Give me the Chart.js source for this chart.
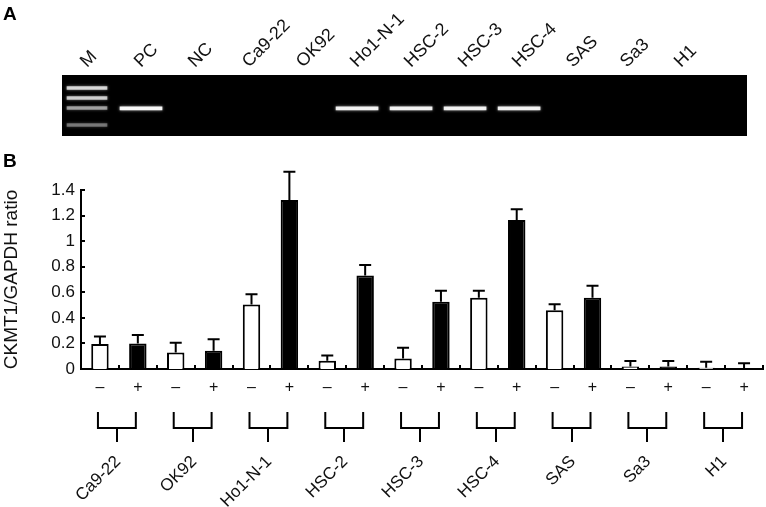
<!DOCTYPE html>
<html>
<head>
<meta charset="utf-8">
<script src="https://cdn.jsdelivr.net/npm/chart.js@4.4.1/dist/chart.umd.min.js"></script>
<style>
  html, body { margin: 0; padding: 0; background: #fff; }
  #wrap { position: relative; width: 766px; height: 507px; }
  #gelBox { position: absolute; left: 0; top: 0; width: 766px; height: 150px; }
  #barBox { position: absolute; left: 0; top: 150px; width: 766px; height: 357px; }
</style>
</head>
<body>
<div id="wrap">
  <div id="gelBox"><canvas id="gel"></canvas></div>
  <div id="barBox"><canvas id="chart"></canvas></div>
</div>
<script>
// panel A - RT-PCR gel
const gelLanes = ['M', 'PC', 'NC', 'Ca9-22', 'OK92', 'Ho1-N-1', 'HSC-2', 'HSC-3', 'HSC-4', 'SAS', 'Sa3', 'H1'];
const ladderMigration = [13, 23, 33, 50];
const ladderIntensity = [0.75, 0.7, 0.5, 0.35];
const productMigration = 33.4;
const productIntensity = [0, 0.95, 0, 0, 0, 0.9, 0.9, 0.9, 0.9, 0, 0, 0];

// panel B - CKMT1/GAPDH ratio
const signs = ['\u2013', '+'];
const cellLines = ['Ca9-22', 'OK92', 'Ho1-N-1', 'HSC-2', 'HSC-3', 'HSC-4', 'SAS', 'Sa3', 'H1'];
const minusMean = [0.195, 0.13, 0.505, 0.065, 0.083, 0.557, 0.459, 0.02, 0.01];
const minusErr  = [0.06, 0.075, 0.08, 0.04, 0.083, 0.055, 0.047, 0.042, 0.047];
const plusMean  = [0.2, 0.143, 1.322, 0.731, 0.526, 1.166, 0.557, 0.02, 0.005];
const plusErr   = [0.065, 0.09, 0.22, 0.083, 0.086, 0.083, 0.094, 0.042, 0.039];

const FONT = '"Liberation Sans", Arial, Helvetica, sans-serif';
Chart.defaults.font.family = FONT;
Chart.defaults.color = '#111';

// black gel background, glow on the bands, lane names
const gelDecor = {
    id: 'gelDecor',
    beforeDatasetsDraw(chart) {
        const {ctx, chartArea: a} = chart;
        ctx.save();
        ctx.fillStyle = '#000';
        ctx.fillRect(a.left, a.top, a.right - a.left, a.bottom - a.top);
        ctx.shadowColor = 'rgba(255,255,255,0.7)';
        ctx.shadowBlur = 3;
    },
    afterDatasetsDraw(chart) {
        chart.ctx.restore();
    },
    afterDraw(chart) {
        const {ctx, chartArea: a} = chart;
        const x = chart.scales.x;
        ctx.save();
        ctx.fillStyle = '#111';
        ctx.font = '18px ' + FONT;
        ctx.textAlign = 'left';
        ctx.textBaseline = 'alphabetic';
        gelLanes.forEach((lane, i) => {
            ctx.save();
            ctx.translate(x.getPixelForValue(i), a.top - 7);
            ctx.rotate(-Math.PI / 4);
            ctx.fillText(lane, 0, 0);
            ctx.restore();
        });
        ctx.fillStyle = '#000';
        ctx.font = 'bold 19px ' + FONT;
        ctx.fillText('A', 3, 20);
        ctx.restore();
    }
};

const productLanes = gelLanes.map((l, i) => i).filter(i => productIntensity[i] > 0);

new Chart(document.getElementById('gel'), {
    type: 'bar',
    data: {
        datasets: [{
            label: 'Marker',
            data: ladderMigration.map(m => ({x: 0, y: [m - 1.3, m + 1.3]})),
            backgroundColor: ladderIntensity.map(v => `rgba(255,255,255,${v})`),
            barThickness: 40,
            grouped: false
        }, {
            label: 'CKMT1',
            data: productLanes.map(i => ({x: i, y: [productMigration - 1.6, productMigration + 1.6]})),
            backgroundColor: productLanes.map(i => `rgba(255,255,255,${productIntensity[i]})`),
            barThickness: 42,
            grouped: false
        }]
    },
    options: {
        responsive: true,
        maintainAspectRatio: false,
        animation: false,
        devicePixelRatio: 1,
        layout: {padding: {left: 62, right: 19, top: 75, bottom: 14}},
        plugins: {legend: {display: false}, tooltip: {enabled: false}},
        scales: {
            x: {type: 'linear', display: false, min: -0.463, max: 12.22, offset: false},
            y: {display: false, reverse: true, min: 0, max: 61}
        }
    },
    plugins: [gelDecor]
});

// error bars, inward ticks, brackets and cell line names
const barDecor = {
    id: 'barDecor',
    afterDatasetsDraw(chart) {
        const {ctx} = chart;
        const y = chart.scales.y;
        ctx.save();
        ctx.strokeStyle = '#000';
        ctx.lineWidth = 2;
        chart.data.datasets.forEach((ds, d) => {
            chart.getDatasetMeta(d).data.forEach((bar, j) => {
                const v = ds.data[j];
                if (v == null) return;
                const top = y.getPixelForValue(v + ds.errors[j]);
                ctx.beginPath();
                ctx.moveTo(bar.x, bar.y);
                ctx.lineTo(bar.x, top);
                ctx.moveTo(bar.x - 6, top);
                ctx.lineTo(bar.x + 6, top);
                ctx.stroke();
            });
        });
        ctx.restore();
    },
    afterDraw(chart) {
        const {ctx, chartArea: a} = chart;
        const x = chart.scales.x, y = chart.scales.y;
        ctx.save();
        ctx.strokeStyle = '#000';
        ctx.lineWidth = 2;
        ctx.beginPath();
        y.ticks.forEach(t => {
            const py = Math.round(y.getPixelForValue(t.value));
            ctx.moveTo(a.left, py);
            ctx.lineTo(a.left + 4, py);
        });
        for (let i = 0; i < x.ticks.length; i++) {
            const px = Math.round(x.getPixelForValue(i + 0.5));
            ctx.moveTo(px, a.bottom);
            ctx.lineTo(px, a.bottom - 4);
        }
        ctx.stroke();

        cellLines.forEach((name, i) => {
            const xl = x.getPixelForValue(2 * i) - 2;
            const xr = x.getPixelForValue(2 * i + 1) - 2;
            const xm = Math.round((xl + xr) / 2);
            ctx.beginPath();
            ctx.moveTo(xl, a.bottom + 43);
            ctx.lineTo(xl, a.bottom + 59);
            ctx.lineTo(xr, a.bottom + 59);
            ctx.lineTo(xr, a.bottom + 43);
            ctx.moveTo(xm, a.bottom + 59);
            ctx.lineTo(xm, a.bottom + 73);
            ctx.stroke();

            ctx.save();
            ctx.translate(xm + 1, a.bottom + 90);
            ctx.rotate(-Math.PI / 4);
            ctx.font = '17px ' + FONT;
            ctx.fillStyle = '#111';
            ctx.textAlign = 'right';
            ctx.textBaseline = 'middle';
            ctx.fillText(name, 0, 0);
            ctx.restore();
        });

        ctx.fillStyle = '#000';
        ctx.font = 'bold 19px ' + FONT;
        ctx.fillText('B', 3, 17);
        ctx.restore();
    }
};

const xLabels = cellLines.flatMap(() => signs);

new Chart(document.getElementById('chart'), {
    type: 'bar',
    data: {
        labels: xLabels,
        datasets: [{
            label: '\u2013',
            data: cellLines.flatMap((c, i) => [minusMean[i], null]),
            errors: cellLines.flatMap((c, i) => [minusErr[i], null]),
            backgroundColor: '#fff',
            borderColor: '#000',
            borderWidth: 2,
            grouped: false
        }, {
            label: '+',
            data: cellLines.flatMap((c, i) => [null, plusMean[i]]),
            errors: cellLines.flatMap((c, i) => [null, plusErr[i]]),
            backgroundColor: '#000',
            borderColor: '#000',
            borderWidth: 2,
            grouped: false
        }]
    },
    options: {
        responsive: true,
        maintainAspectRatio: false,
        animation: false,
        devicePixelRatio: 1,
        layout: {padding: {left: 0, right: 3, top: 40, bottom: 0}},
        datasets: {bar: {categoryPercentage: 1, barPercentage: 0.46}},
        plugins: {legend: {display: false}, tooltip: {enabled: false}},
        scales: {
            x: {
                grid: {display: false, drawTicks: false},
                border: {display: true, color: '#000', width: 2},
                afterFit(s) { s.height = 138; },
                ticks: {autoSkip: false, maxRotation: 0, padding: 9, font: {size: 16}, color: '#111'}
            },
            y: {
                min: 0,
                max: 1.4,
                grid: {display: false, drawTicks: false},
                border: {display: true, color: '#000', width: 2},
                afterFit(s) { s.width = 81; },
                title: {display: true, text: 'CKMT1/GAPDH ratio', font: {size: 19}, color: '#111', padding: 0},
                ticks: {stepSize: 0.2, padding: 6, font: {size: 17}, color: '#111', callback: v => String(+v.toFixed(1))}
            }
        }
    },
    plugins: [barDecor]
});
</script>
</body>
</html>
